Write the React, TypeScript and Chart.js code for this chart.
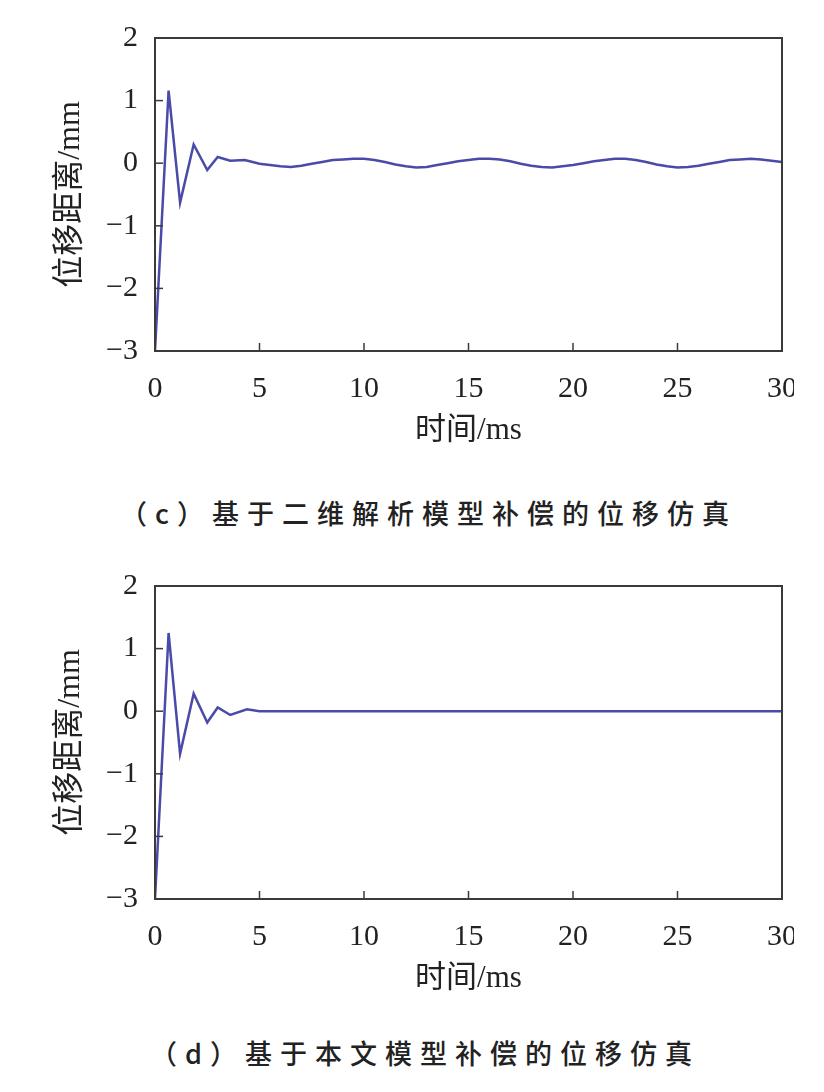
import React, { useEffect, useRef } from "react";
import { Chart, registerables } from "chart.js";

Chart.register(...registerables);

// ---- data ----
const xTicks = [0, 5, 10, 15, 20, 25, 30];
const yTicks = [2, 1, 0, -1, -2, -3];

const timeC = [
  0, 0.65, 1.2, 1.85, 2.5, 3.0, 3.6, 4.3, 5.0, 5.5, 6.0, 6.5, 7.0, 7.5, 8.0, 8.5, 9.0, 9.5, 10.0,
  10.5, 11.0, 11.5, 12.0, 12.5, 13.0, 13.5, 14.0, 14.5, 15.0, 15.5, 16.0, 16.5, 17.0, 17.5, 18.0,
  18.5, 19.0, 19.5, 20.0, 20.5, 21.0, 21.5, 22.0, 22.5, 23.0, 23.5, 24.0, 24.5, 25.0, 25.5, 26.0,
  26.5, 27.0, 27.5, 28.0, 28.5, 29.0, 29.5, 30.0,
];
const dispC = [
  -3, 1.16, -0.63, 0.3, -0.11, 0.1, 0.04, 0.05, -0.01, -0.03, -0.05, -0.06, -0.04, -0.01, 0.02,
  0.05, 0.06, 0.07, 0.07, 0.05, 0.02, -0.02, -0.05, -0.07, -0.06, -0.03, 0.0, 0.03, 0.05, 0.07,
  0.07, 0.06, 0.03, -0.01, -0.04, -0.06, -0.07, -0.05, -0.03, 0.0, 0.03, 0.05, 0.07, 0.07, 0.05,
  0.02, -0.02, -0.05, -0.07, -0.06, -0.04, -0.01, 0.02, 0.05, 0.06, 0.07, 0.06, 0.04, 0.02,
];

const timeD = [0, 0.65, 1.2, 1.85, 2.5, 3.0, 3.6, 4.4, 5.0, 6.0, 10.0, 15.0, 20.0, 25.0, 30.0];
const dispD = [-3, 1.25, -0.68, 0.28, -0.18, 0.06, -0.06, 0.03, 0.0, 0.0, 0.0, 0.0, 0.0, 0.0, 0.0];

const xTitle = "时间/ms";
const yTitle = "位移距离/mm";
const captionC = "（c）基于二维解析模型补偿的位移仿真";
const captionD = "（d）基于本文模型补偿的位移仿真";

// ---- layout ----
const W = 824;
const H = 460;
const PLOT_L = 155;
const PLOT_R = 782;
const PLOT_T = 38;
const PLOT_B = 351;
const Y_AXIS_W = 104;
const X_AXIS_H = 98;

const LINE_COLOR = "#4a4aa8";
const AXIS_COLOR = "#3a3a3a";
const TEXT_COLOR = "#222";
const SERIF = "'Liberation Serif', 'Times New Roman', 'Noto Sans CJK SC', serif";

const framePlugin = {
  id: "matlabFrame",
  afterDatasetsDraw(chart: any) {
    const { ctx, chartArea: a, scales } = chart;
    ctx.save();
    ctx.strokeStyle = AXIS_COLOR;
    ctx.lineWidth = 1.5;
    for (const v of xTicks) {
      const x = scales.x.getPixelForValue(v);
      ctx.beginPath();
      ctx.moveTo(x, a.bottom);
      ctx.lineTo(x, a.bottom - 8);
      ctx.stroke();
    }
    for (const v of yTicks) {
      const y = scales.y.getPixelForValue(v);
      ctx.beginPath();
      ctx.moveTo(a.left, y);
      ctx.lineTo(a.left + 8, y);
      ctx.stroke();
    }
    ctx.lineWidth = 2;
    ctx.strokeRect(a.left, a.top, a.right - a.left, a.bottom - a.top);
    ctx.restore();
  },
};

function Panel({ time, disp, top }: { time: number[]; disp: number[]; top: number }) {
  const ref = useRef<HTMLCanvasElement | null>(null);
  useEffect(() => {
    if (!ref.current) return;
    const chart = new Chart(ref.current, {
      type: "line",
      data: {
        datasets: [
          {
            data: time.map((t, i) => ({ x: t, y: disp[i] })),
            borderColor: LINE_COLOR,
            borderWidth: 2.5,
            pointRadius: 0,
            tension: 0,
            fill: false,
          },
        ],
      },
      options: {
        animation: false,
        responsive: false,
        devicePixelRatio: 1,
        layout: {
          padding: {
            left: PLOT_L - Y_AXIS_W,
            right: W - PLOT_R,
            top: PLOT_T,
            bottom: H - PLOT_B - X_AXIS_H,
          },
        },
        plugins: { legend: { display: false }, tooltip: { enabled: false } },
        scales: {
          x: {
            type: "linear",
            min: 0,
            max: 30,
            afterBuildTicks: (s: any) => {
              s.ticks = xTicks.map((v) => ({ value: v }));
            },
            afterFit: (s: any) => {
              s.height = X_AXIS_H;
            },
            grid: { display: false },
            border: { display: false },
            ticks: {
              autoSkip: false,
              maxRotation: 0,
              padding: 12,
              color: TEXT_COLOR,
              font: { family: SERIF, size: 30 },
            },
            title: {
              display: true,
              text: xTitle,
              color: TEXT_COLOR,
              padding: 0,
              font: { family: SERIF, size: 31 },
            },
          },
          y: {
            type: "linear",
            min: -3,
            max: 2,
            afterBuildTicks: (s: any) => {
              s.ticks = yTicks.map((v) => ({ value: v }));
            },
            afterFit: (s: any) => {
              s.width = Y_AXIS_W;
            },
            grid: { display: false },
            border: { display: false },
            ticks: {
              autoSkip: false,
              padding: 9,
              color: TEXT_COLOR,
              font: { family: SERIF, size: 30 },
              callback: (v: any) => String(v).replace("-", "\u2212"),
            },
            title: {
              display: true,
              text: yTitle,
              color: TEXT_COLOR,
              padding: 0,
              font: { family: SERIF, size: 32 },
            },
          },
        },
      },
      plugins: [framePlugin],
    });
    return () => chart.destroy();
  }, [time, disp]);

  return (
    <div
      style={{
        position: "absolute",
        left: 0,
        top,
        width: 794,
        height: H,
        overflow: "hidden",
      }}
    >
      <canvas ref={ref} width={W} height={H} style={{ width: W, height: H, display: "block" }} />
    </div>
  );
}

const captionStyle: React.CSSProperties = {
  position: "absolute",
  fontFamily: "'Noto Sans CJK SC', sans-serif",
  fontSize: 27,
  fontWeight: 500,
  lineHeight: "30px",
  letterSpacing: "8px",
  color: TEXT_COLOR,
  whiteSpace: "nowrap",
};

export default function App() {
  return (
    <div style={{ position: "absolute", left: 0, top: 0, width: 824, height: 1092, background: "#fff" }}>
      <Panel time={timeC} disp={dispC} top={0} />
      <div style={{ ...captionStyle, left: 120, top: 498 }}>{captionC}</div>
      <Panel time={timeD} disp={dispD} top={548} />
      <div style={{ ...captionStyle, left: 150, top: 1038 }}>{captionD}</div>
    </div>
  );
}
